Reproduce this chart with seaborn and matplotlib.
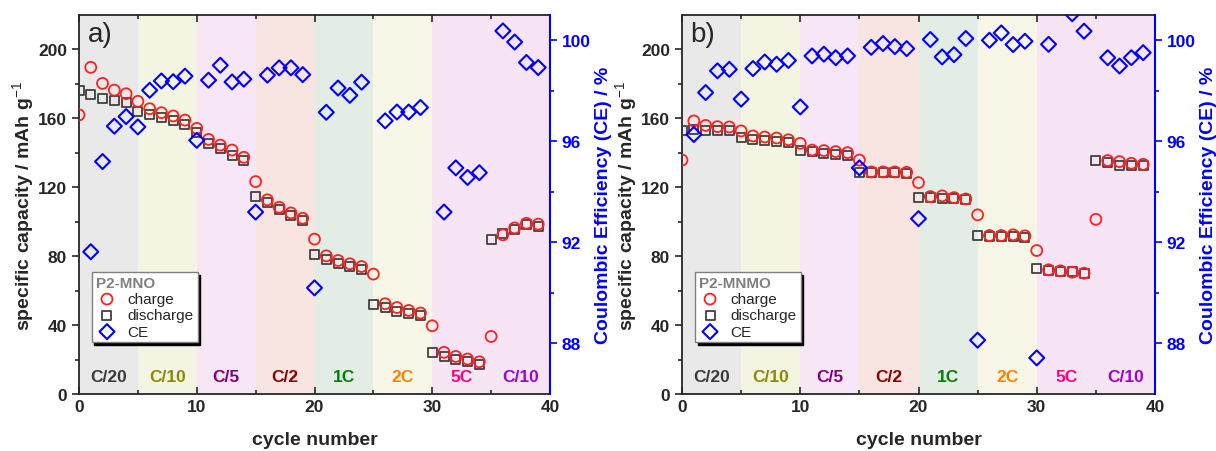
import numpy as np
import pandas as pd
import matplotlib
matplotlib.use("Agg")
import matplotlib.pyplot as plt
import seaborn as sns

sns.set_style("ticks")
plt.rcParams['font.family'] = ['Liberation Sans', 'DejaVu Sans']
plt.rcParams['mathtext.fontset'] = 'custom'
plt.rcParams['mathtext.rm'] = 'Liberation Sans'
plt.rcParams['mathtext.bf'] = 'Liberation Sans:bold'

cycles = list(range(40))

# Panel a: P2-MNO
charge_a = [162, 189.6, 180.3, 176.4, 174.3, 169.9, 165.6, 163.3, 161.4, 159.0,
            154.2, 147.8, 144.5, 141.6, 137.4, 123.3, 112.7, 108.4, 105.1, 102.0,
            89.9, 80.2, 77.5, 75.6, 74.0, 69.6, 52.4, 50.2, 48.5, 47.0,
            39.6, 24.2, 21.8, 20.3, 18.7, 33.4, 92.4, 96.4, 99.1, 98.6]
discharge_a = [176.0, 173.7, 171.4, 170.6, 169.3, 164.0, 162.3, 160.6, 158.6, 156.7,
               152.0, 145.5, 142.6, 138.7, 135.5, 114.6, 111.1, 106.9, 103.4, 100.5,
               80.8, 77.9, 75.9, 74.0, 72.5, 52.2, 50.4, 47.9, 46.6, 45.4,
               24.2, 21.8, 20.3, 18.7, 17.2, 89.5, 93.3, 95.7, 98.2, 97.2]
ce_cycles_a = [1, 2, 3, 4, 5, 6, 7, 8, 9, 10, 11, 12, 13, 14, 15, 16, 17, 18, 19, 20,
               21, 22, 23, 24, 26, 27, 28, 29, 31, 32, 33, 34, 36, 37, 38, 39]
ce_a = [91.63, 95.2, 96.6, 96.98, 96.57, 98.02, 98.39, 98.36, 98.58, 96.04,
        98.42, 99.01, 98.35, 98.46, 93.2, 98.62, 98.91, 98.91, 98.64, 90.2,
        97.15, 98.11, 97.82, 98.34, 96.81, 97.16, 97.16, 97.34,
        93.2, 94.95, 94.57, 94.76, 100.37, 99.93, 99.12, 98.92]

# Panel b: P2-MNMO
charge_b = [135.8, 158.5, 155.9, 155.2, 155.0, 152.7, 149.8, 149.2, 148.6, 147.6,
            145.5, 141.6, 141.3, 140.7, 140.1, 135.8, 128.9, 128.9, 128.9, 128.7,
            122.7, 114.6, 115.0, 114.0, 113.2, 104.0, 92.0, 92.0, 92.4, 91.8,
            83.3, 72.1, 71.5, 70.7, 70.1, 101.4, 135.5, 134.9, 133.9, 133.3]
discharge_b = [153.2, 153.6, 153.2, 153.2, 152.9, 149.0, 147.8, 147.4, 146.5, 145.9,
               141.6, 140.7, 139.7, 139.3, 138.7, 128.5, 128.5, 128.5, 128.5, 128.1,
               114.2, 114.2, 113.6, 113.2, 112.7, 91.8, 91.4, 91.4, 91.4, 91.0,
               73.0, 71.7, 71.1, 70.9, 70.1, 135.5, 134.3, 132.9, 132.8, 132.6]
ce_cycles_b = [1, 2, 3, 4, 5, 6, 7, 8, 9, 10, 11, 12, 13, 14, 15, 16, 17, 18, 19, 20,
               21, 22, 23, 24, 25, 26, 27, 28, 29, 30, 31, 33, 34, 36, 37, 38, 39]
ce_b = [96.27, 97.93, 98.79, 98.85, 97.67, 98.88, 99.14, 99.05, 99.2, 97.36,
        99.38, 99.45, 99.31, 99.38, 94.95, 99.72, 99.87, 99.75, 99.67, 92.94,
        100.03, 99.34, 99.43, 100.07, 88.13, 100.0, 100.29, 99.83, 99.96, 87.43,
        99.84, 101.05, 100.36, 99.31, 98.98, 99.31, 99.51]

rate_labels = ["C/20", "C/10", "C/5", "C/2", "1C", "2C", "5C", "C/10"]
rate_starts = [0, 5, 10, 15, 20, 25, 30, 35]
band_colors = ["#e9e9e9", "#f4f4e2", "#f7e6f6", "#f8e5e1", "#e3ede5", "#f8f6e6", "#f7e5f5", "#f7e5f5"]
text_colors = ["#3a3a3a", "#8a8a00", "#800080", "#8b0000", "#008000", "#ff8000", "#ff0080", "#a000d0"]

fig = plt.figure(figsize=(12.16, 4.52), dpi=100)
fig.patch.set_facecolor("white")
ax_a = fig.add_axes([79/1216, 57/452, 471/1216, 379/452])
ax_b = fig.add_axes([682/1216, 57/452, 473/1216, 379/452])


def draw_panel(ax, charge, discharge, ce_x, ce, tag, title):
    for start, bc, lab, tc in zip(rate_starts, band_colors, rate_labels, text_colors):
        ax.axvspan(start, start + 5, color=bc, lw=0, zorder=0)
        ax.text(start + 2.5, 10, lab, color=tc, fontsize=12.5, fontweight="bold",
                ha="center", va="center", zorder=1)
    df = pd.DataFrame({"cycle": cycles, "charge": charge, "discharge": discharge})
    sns.scatterplot(data=df, x="cycle", y="discharge", ax=ax, marker="s", s=42,
                    facecolor="none", edgecolor="#404040", linewidth=1.3,
                    label="discharge", zorder=3)
    sns.scatterplot(data=df, x="cycle", y="charge", ax=ax, marker="o", s=62,
                    facecolor="none", edgecolor="#ff2020", linewidth=1.3,
                    label="charge", zorder=4)
    ax.set_xlim(0, 40)
    ax.set_ylim(0, 220)
    ax.set_xticks([0, 10, 20, 30, 40])
    ax.set_xticks([5, 15, 25, 35], minor=True)
    ax.set_yticks([0, 40, 80, 120, 160, 200])
    ax.set_yticks([20, 60, 100, 140, 180], minor=True)
    ax.tick_params(axis="x", which="both", direction="in", top=True, labelsize=12.5)
    ax.tick_params(axis="x", which="major", length=5, width=1.2)
    ax.tick_params(axis="x", which="minor", length=3, width=1.2)
    ax.tick_params(axis="y", which="major", direction="out", length=5, width=1.2, labelsize=12.5)
    ax.tick_params(axis="y", which="minor", direction="out", length=3, width=1.2)
    for lbl in ax.get_xticklabels() + ax.get_yticklabels():
        lbl.set_fontweight("bold")
    ax.set_xlabel("cycle number", fontsize=14, fontweight="bold", labelpad=12)
    ax.set_ylabel("specific capacity / mAh g$^{-1}$", fontsize=14, fontweight="bold", labelpad=1)
    for sp in ax.spines.values():
        sp.set_linewidth(1.3)
    ax.text(0.018, 0.95, tag, transform=ax.transAxes, fontsize=20, ha="left", va="center", zorder=6)

    ax2 = ax.twinx()
    ce_df = pd.DataFrame({"cycle": ce_x, "ce": ce})
    sns.scatterplot(data=ce_df, x="cycle", y="ce", ax=ax2, marker="D", s=58,
                    facecolor="none", edgecolor="#0000ff", linewidth=1.5,
                    label="CE", zorder=5, legend=False)
    ax2.set_ylim(86, 101)
    ax2.set_xlim(0, 40)
    ax2.set_yticks([88, 92, 96, 100])
    ax2.set_yticks([90, 94, 98], minor=True)
    ax2.tick_params(axis="y", which="major", direction="out", length=5, width=1.2,
                    colors="#0000ff", labelsize=12.5)
    ax2.tick_params(axis="y", which="minor", direction="out", length=3, width=1.2, colors="#0000ff")
    for lbl in ax2.get_yticklabels():
        lbl.set_fontweight("bold")
    ax2.set_ylabel("Coulombic Efficiency (CE) / %", fontsize=14, fontweight="bold",
                   color="#0000ff", labelpad=3)
    ax2.set_xlabel("")
    ax2.spines["right"].set_color("#0000ff")
    ax2.spines["right"].set_linewidth(1.5)
    for s in ["left", "top", "bottom"]:
        ax2.spines[s].set_visible(False)

    h1, l1 = ax.get_legend_handles_labels()
    h2, l2 = ax2.get_legend_handles_labels()
    handles = {l: h for h, l in zip(h1 + h2, l1 + l2)}
    order = ["charge", "discharge", "CE"]
    if ax.get_legend():
        ax.get_legend().remove()
    leg = ax2.legend([handles[k] for k in order], order, title=title,
                     loc="upper left", bbox_to_anchor=(0.027, 0.322),
                     fontsize=11, title_fontproperties={"weight": "bold", "size": 11},
                     frameon=True, fancybox=False, edgecolor="#808080",
                     shadow={"color": "black", "alpha": 1.0},
                     borderpad=0.25, labelspacing=0.15, handletextpad=0.6,
                     handlelength=1.5, borderaxespad=0, alignment="left")
    leg.get_title().set_color("#808080")
    leg.get_frame().set_linewidth(1.0)
    leg.set_zorder(10)


draw_panel(ax_a, charge_a, discharge_a, ce_cycles_a, ce_a, "a)", "P2-MNO")
draw_panel(ax_b, charge_b, discharge_b, ce_cycles_b, ce_b, "b)", "P2-MNMO")

fig.savefig("out.png", dpi=100, facecolor="white")
